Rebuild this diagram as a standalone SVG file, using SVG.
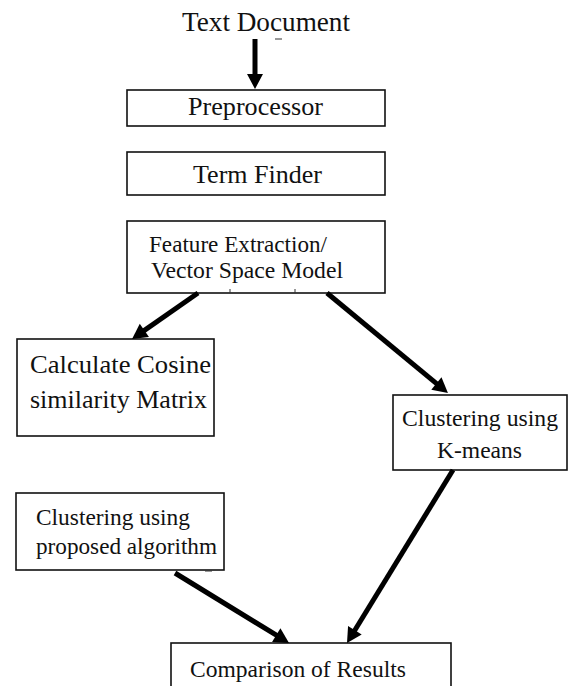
<svg xmlns="http://www.w3.org/2000/svg" width="568" height="686" viewBox="0 0 568 686">
<style>
.box{fill:#fff;stroke:#111;stroke-width:1.6}
.t{font-family:'Liberation Serif','DejaVu Serif',serif;fill:#111}
.c{stroke:#000;stroke-width:5;fill:none}
.tick{stroke:#333;stroke-width:1}
</style>
<defs>
<marker id="ah" markerUnits="userSpaceOnUse" markerWidth="16" markerHeight="16" refX="3" refY="8" orient="auto" overflow="visible">
<path d="M0,0 L15,8 L0,16 Z" fill="#000"/>
</marker>
</defs>
<rect width="568" height="686" fill="#fff"/>
<g font-family="Liberation Serif, DejaVu Serif, serif">
<g id="text-document">
<text class="t" x="266" y="31" font-size="27" text-anchor="middle" textLength="168" lengthAdjust="spacingAndGlyphs">Text Document</text>
<line class="tick" x1="275" y1="39" x2="282" y2="39" stroke-width="1.5"/>
</g>
<g id="preprocessor">
<rect class="box" x="127" y="90" width="258" height="36"/>
<text class="t" x="255.5" y="115" font-size="26" text-anchor="middle" textLength="135" lengthAdjust="spacingAndGlyphs">Preprocessor</text>
</g>
<g id="term-finder">
<rect class="box" x="127" y="152" width="258" height="43"/>
<text class="t" x="257.5" y="183" font-size="26" text-anchor="middle" textLength="129" lengthAdjust="spacingAndGlyphs">Term Finder</text>
</g>
<g id="feature-extraction">
<rect class="box" x="127" y="221" width="258" height="72"/>
<text class="t" x="149" y="252" font-size="23.5" textLength="178" lengthAdjust="spacingAndGlyphs">Feature Extraction/</text>
<text class="t" x="151" y="278" font-size="23.5" textLength="192" lengthAdjust="spacingAndGlyphs">Vector Space Model</text>
<line class="tick" x1="230" y1="289" x2="230" y2="293"/>
<line class="tick" x1="295" y1="289" x2="295" y2="293"/>
</g>
<g id="cosine-similarity">
<rect class="box" x="17" y="339" width="197" height="97"/>
<text class="t" x="30" y="373" font-size="26" textLength="181" lengthAdjust="spacingAndGlyphs">Calculate Cosine</text>
<text class="t" x="30" y="408" font-size="26" textLength="177" lengthAdjust="spacingAndGlyphs">similarity Matrix</text>
</g>
<g id="kmeans">
<rect class="box" x="393" y="395" width="174" height="75"/>
<text class="t" x="480" y="426" font-size="24" text-anchor="middle" textLength="156" lengthAdjust="spacingAndGlyphs">Clustering using</text>
<text class="t" x="479.5" y="458" font-size="24" text-anchor="middle" textLength="85" lengthAdjust="spacingAndGlyphs">K-means</text>
</g>
<g id="proposed">
<rect class="box" x="16" y="493" width="208" height="77"/>
<text class="t" x="36" y="525" font-size="23.5" textLength="154" lengthAdjust="spacingAndGlyphs">Clustering using</text>
<text class="t" x="36" y="554" font-size="23.5" textLength="181" lengthAdjust="spacingAndGlyphs">proposed algorithm</text>
<line class="tick" x1="205" y1="571" x2="212" y2="571" stroke-width="2"/>
</g>
<g id="comparison">
<rect class="box" x="171" y="643" width="280" height="60"/>
<text class="t" x="190" y="677" font-size="24" textLength="216" lengthAdjust="spacingAndGlyphs">Comparison of Results</text>
</g>
</g>
<g id="connectors">
<line class="c" x1="255" y1="39" x2="255" y2="77" marker-end="url(#ah)"/>
<line class="c" x1="198" y1="293" x2="141.9" y2="332.1" marker-end="url(#ah)"/>
<line class="c" x1="327" y1="293" x2="438.7" y2="385.4" marker-end="url(#ah)"/>
<line class="c" x1="175" y1="573" x2="278.8" y2="636.7" marker-end="url(#ah)"/>
<line class="c" x1="453" y1="470" x2="353.3" y2="632.8" marker-end="url(#ah)"/>
</g>
</svg>
